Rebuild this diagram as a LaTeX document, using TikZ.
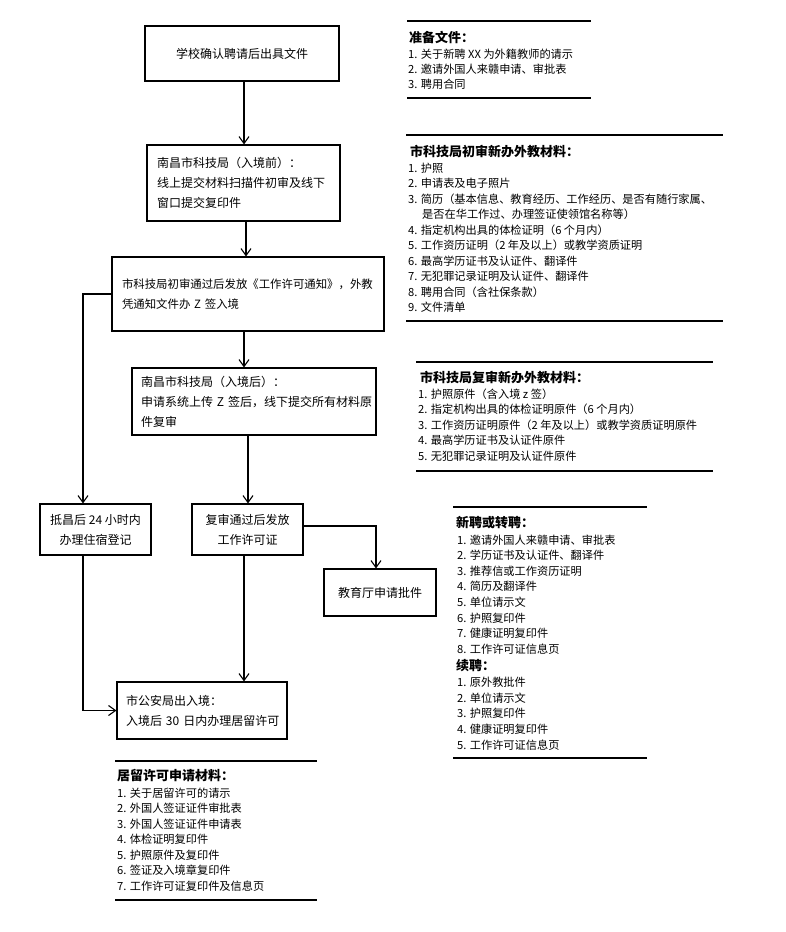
\documentclass[tikz,border=0pt]{standalone}
\usepackage{fontspec}
\setmainfont{Noto Sans CJK SC}
\usetikzlibrary{arrows.meta}
\begin{document}
\begin{tikzpicture}[x=1pt,y=-1pt,
  fbox/.style={draw, line width=1.1pt, inner xsep=10pt, inner ysep=0pt, font=\fontsize{12}{20}\selectfont},
  arr/.style={line width=1.1pt, -{Straight Barb[length=7pt,width=10pt,line width=1.1pt]}},
  conn/.style={line width=1.1pt},
  rulel/.style={line width=2pt},
  item/.style={anchor=west, inner sep=0pt, font=\fontsize{11.2}{14}\selectfont},
  ttl/.style={anchor=west, inner sep=0pt, font=\bfseries\fontsize{13}{15}\selectfont}]
\useasboundingbox (0,0) rectangle (786,932);

% flowchart boxes
\node[fbox, minimum width=194pt, minimum height=55pt, align=center] (b1) at (242,53.5) {学校确认聘请后出具文件};
\node[fbox, minimum width=193pt, minimum height=76pt, text width=173pt, align=left] (b2) at (243.5,183)
  {南昌市科技局（入境前）：\\线上提交材料扫描件初审及线下\\窗口提交复印件};
\node[fbox, minimum width=272pt, minimum height=74pt, text width=252pt, align=left, font=\fontsize{11.4}{20}\selectfont] (b3) at (248,294)
  {市科技局初审通过后发放《工作许可通知》，外教\\凭通知文件办~Z~签入境};
\node[fbox, minimum width=244pt, minimum height=67pt, inner xsep=9pt, text width=226pt, align=left] (b4) at (254,401.5)
  {南昌市科技局（入境后）：\\申请系统上传~Z~签后，线下提交所有材料原\\件复审};
\node[fbox, minimum width=111pt, minimum height=51pt, align=center] (dc) at (95.5,529.5) {抵昌后~24~小时内\\办理住宿登记};
\node[fbox, minimum width=111pt, minimum height=51pt, align=center] (fs) at (247.5,529.5) {复审通过后发放\\工作许可证};
\node[fbox, minimum width=112pt, minimum height=47pt, align=center] (jy) at (380,592.5) {教育厅申请批件};
\node[fbox, minimum width=170pt, minimum height=57pt, inner xsep=9pt, text width=152pt, align=left] (ga) at (202,710.5)
  {市公安局出入境：\\入境后~30~日内办理居留许可};

% connectors
\coordinate (c1) at (83,294);
\coordinate (c2) at (376,526);
\draw[arr] ([xshift=2pt]b1.south) -- ([xshift=2pt]b1.south |- b2.north);
\draw[arr] ([xshift=2.5pt]b2.south) -- ([xshift=2.5pt]b2.south |- b3.north);
\draw[arr] ([xshift=-4pt]b3.south) -- ([xshift=-4pt]b3.south |- b4.north);
\draw[arr] ([xshift=0.5pt]fs.north |- b4.south) -- ([xshift=0.5pt]fs.north);
\draw[arr] ([xshift=-3.5pt]fs.south) -- ([xshift=-3.5pt]fs.south |- ga.north);
\draw[arr] (b3.west) -- (c1) -- (c1 |- dc.north);
\draw[arr] (c1 |- dc.south) -- (c1 |- ga.west) -- (ga.west);
\draw[arr] (fs.east |- c2) -- (c2) -- (c2 |- jy.north);

% block 1
\draw[rulel] (407,21) -- (591,21);
\draw[rulel] (407,98) -- (591,98);
\node[ttl] (t1) at (409,37) {准备文件：};
\foreach \t [count=\i from 0] in {1. 关于新聘 XX 为外籍教师的请示, 2. 邀请外国人来赣申请、审批表, 3. 聘用合同}
  \node[item] (a\i) at (408,54+15*\i) {\t};

% block 2
\draw[rulel] (406,135) -- (723,135);
\draw[rulel] (406,321) -- (723,321);
\node[ttl] (t2) at (410,152) {市科技局初审新办外教材料：};
\foreach \dx/\t [count=\i from 0] in {0/1. 护照, 0/2. 申请表及电子照片, 0/3. 简历（基本信息、教育经历、工作经历、是否有随行家属、,
  14/是否在华工作过、办理签证使领馆名称等）, 0/4. 指定机构出具的体检证明（6 个月内）, 0/5. 工作资历证明（2 年及以上）或教学资质证明,
  0/6. 最高学历证书及认证件、翻译件, 0/7. 无犯罪记录证明及认证件、翻译件, 0/8. 聘用合同（含社保条款）, 0/9. 文件清单}
  \node[item] (m\i) at (408+\dx,168+15.5*\i) {\t};

% block 3
\draw[rulel] (416,362) -- (713,362);
\draw[rulel] (416,471) -- (713,471);
\node[ttl] (t3) at (420,378) {市科技局复审新办外教材料：};
\foreach \t [count=\i from 0] in {1. 护照原件（含入境 z 签）, 2. 指定机构出具的体检证明原件（6 个月内）, 3. 工作资历证明原件（2 年及以上）或教学资质证明原件,
  4. 最高学历证书及认证件原件, 5. 无犯罪记录证明及认证件原件}
  \node[item] (r\i) at (418,394+15.5*\i) {\t};

% block 4
\draw[rulel] (453,507) -- (647,507);
\draw[rulel] (453,758) -- (647,758);
\node[ttl] (t4) at (456,523) {新聘或转聘：};
\foreach \t [count=\i from 0] in {1. 邀请外国人来赣申请、审批表, 2. 学历证书及认证件、翻译件, 3. 推荐信或工作资历证明, 4. 简历及翻译件,
  5. 单位请示文, 6. 护照复印件, 7. 健康证明复印件, 8. 工作许可证信息页}
  \node[item] (n\i) at (457,540+15.57*\i) {\t};
\node[ttl] (t5) at (456,666) {续聘：};
\foreach \t [count=\i from 0] in {1. 原外教批件, 2. 单位请示文, 3. 护照复印件, 4. 健康证明复印件, 5. 工作许可证信息页}
  \node[item] (x\i) at (457,682+15.75*\i) {\t};

% block 5
\draw[rulel] (115,761) -- (317,761);
\draw[rulel] (115,900) -- (317,900);
\node[ttl] (t6) at (117,776) {居留许可申请材料：};
\foreach \t [count=\i from 0] in {1. 关于居留许可的请示, 2. 外国人签证证件审批表, 3. 外国人签证证件申请表, 4. 体检证明复印件,
  5. 护照原件及复印件, 6. 签证及入境章复印件, 7. 工作许可证复印件及信息页}
  \node[item] (s\i) at (117,793+15.5*\i) {\t};
\end{tikzpicture}
\end{document}
